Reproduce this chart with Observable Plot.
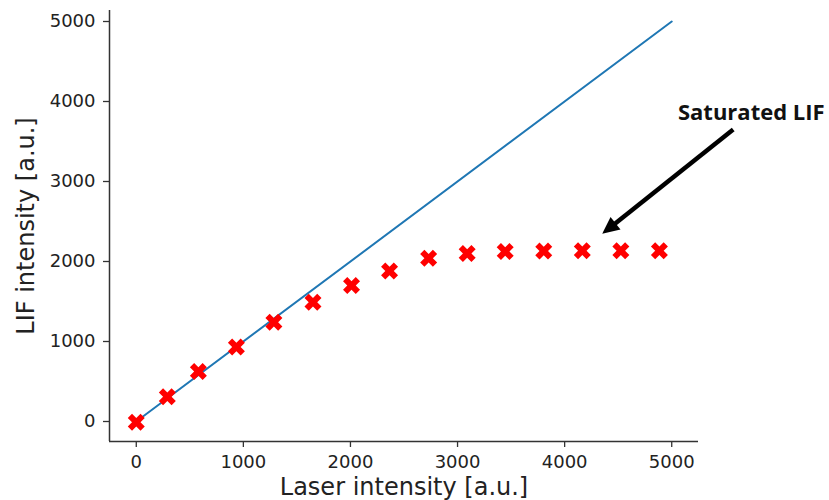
<!DOCTYPE html>
<html>
<head>
<meta charset="utf-8">
<script src="https://cdn.jsdelivr.net/npm/d3@7"></script>
<script src="https://cdn.jsdelivr.net/npm/@observablehq/plot@0.6"></script>
<style>
  html, body { margin: 0; padding: 0; background: white; }
  svg { display: block; }
</style>
</head>
<body>
<div id="chart"></div>
<script>
// ---- data ----
const laserIntensity = [0, 290, 580, 935, 1285, 1650, 2010, 2365, 2730, 3090, 3445, 3805, 4165, 4525, 4885];
const lifIntensity   = [-10, 310, 625, 930, 1240, 1490, 1700, 1880, 2040, 2100, 2125, 2130, 2135, 2135, 2135];
const fitX = [0, 5000];
const fitY = [0, 5000];
const xTicks = [0, 1000, 2000, 3000, 4000, 5000];
const yTicks = [0, 1000, 2000, 3000, 4000, 5000];
const xLabel = "Laser intensity [a.u.]";
const yLabel = "LIF intensity [a.u.]";
const annotationText = ["Saturated LIF"];
const annotationX = [5058];
const annotationY = [3855];
const arrowStart = [5574, 3650];
const arrowTip = [4351, 2346];

// ---- layout ----
const xDomain = [-250, 5250];
const yDomain = [-250, 5137.5];

const points = laserIntensity.map((x, i) => ({x, y: lifIntensity[i]}));
const fit = fitX.map((x, i) => ({x, y: fitY[i]}));
const annotation = annotationText.map((t, i) => ({t, x: annotationX[i], y: annotationY[i]}));

// matplotlib-like filled "X" marker
const xFilled = {
  draw(context, size) {
    const r = Math.sqrt(size / Math.PI);
    const u = r / 2;
    const v = [[-1,-2],[0,-1],[1,-2],[2,-1],[1,0],[2,1],[1,2],[0,1],[-1,2],[-2,1],[-1,0],[-2,-1]];
    context.moveTo(v[0][0]*u, v[0][1]*u);
    for (let k = 1; k < v.length; k++) context.lineTo(v[k][0]*u, v[k][1]*u);
    context.closePath();
  }
};

const baseOpts = {
  width: 829,
  height: 500,
  marginLeft: 109,
  marginRight: 131,
  marginTop: 10,
  marginBottom: 59,
  x: {domain: xDomain},
  y: {domain: yDomain},
  style: {fontFamily: "DejaVu Sans", fontSize: "18px", color: "#222", background: "white"}
};

// probe pass to get the scales for the arrowhead direction
const probe = Plot.plot({...baseOpts, marks: [Plot.dot(points, {x: "x", y: "y"})]});
const sx = probe.scale("x"), sy = probe.scale("y");
const p0 = [sx.apply(arrowStart[0]), sy.apply(arrowStart[1])];
const p1 = [sx.apply(arrowTip[0]), sy.apply(arrowTip[1])];
const dx = p1[0] - p0[0], dy = p1[1] - p0[1];
const len = Math.hypot(dx, dy);
const ux = dx / len, uy = dy / len;
const headLen = 17, headHalf = 8;
const frac = (headLen - 2) / len;
const arrowBase = [arrowTip[0] + (arrowStart[0] - arrowTip[0]) * frac, arrowTip[1] + (arrowStart[1] - arrowTip[1]) * frac];

const arrowHead = {
  draw(context) {
    const nx = -uy, ny = ux;
    context.moveTo(0, 0);
    context.lineTo(-headLen*ux + headHalf*nx, -headLen*uy + headHalf*ny);
    context.lineTo(-headLen*ux - headHalf*nx, -headLen*uy - headHalf*ny);
    context.closePath();
  }
};

const chart = Plot.plot({
  ...baseOpts,
  marks: [
    Plot.axisX({ticks: xTicks, tickFormat: d => String(d), tickSize: 6, tickPadding: 8, label: null, stroke: "#333", strokeWidth: 1.3, fontSize: 18, fill: "#222"}),
    Plot.axisY({ticks: yTicks, tickFormat: d => String(d), tickSize: 6, tickPadding: 8, label: null, stroke: "#333", strokeWidth: 1.3, fontSize: 18, fill: "#222"}),
    Plot.ruleX([xDomain[0]], {stroke: "#333", strokeWidth: 1.5}),
    Plot.ruleY([yDomain[0]], {stroke: "#333", strokeWidth: 1.5}),
    Plot.line(fit, {x: "x", y: "y", stroke: "#1f77b4", strokeWidth: 2}),
    Plot.dot(points, {x: "x", y: "y", r: 8.5, symbol: xFilled, fill: "#ff0000"}),
    Plot.link([{x1: arrowStart[0], y1: arrowStart[1], x2: arrowBase[0], y2: arrowBase[1]}],
      {x1: "x1", y1: "y1", x2: "x2", y2: "y2", stroke: "black", strokeWidth: 4.5}),
    Plot.dot([{x: arrowTip[0], y: arrowTip[1]}], {x: "x", y: "y", r: 5, symbol: arrowHead, fill: "black"}),
    Plot.text(annotation, {x: "x", y: "y", text: "t", textAnchor: "start", lineAnchor: "middle",
      fontFamily: "Open Sans", fontWeight: "bold", fontSize: 22, fill: "#111"}),
    Plot.text([xLabel], {text: d => d, frameAnchor: "bottom", dy: 53, lineAnchor: "bottom", textAnchor: "middle", fontSize: 24, fill: "#222"}),
    Plot.text([yLabel], {text: d => d, frameAnchor: "left", dx: -76, rotate: -90, lineAnchor: "bottom", textAnchor: "middle", fontSize: 24, fill: "#222"})
  ]
});
document.getElementById("chart").appendChild(chart);
</script>
</body>
</html>
